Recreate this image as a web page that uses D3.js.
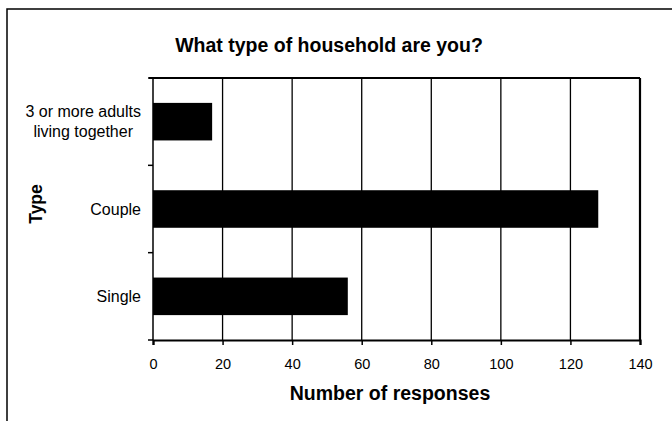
<!DOCTYPE html>
<html>
<head>
<meta charset="utf-8">
<script src="https://cdn.jsdelivr.net/npm/d3@7"></script>
<style>
  html, body { margin: 0; padding: 0; background: #fff; }
  svg { display: block; font-family: "Liberation Sans", Arial, sans-serif; }
</style>
</head>
<body>
<svg id="chart" width="672" height="421"></svg>
<script>
// ---- data ----
const categories = ["3 or more adults|living together", "Couple", "Single"];
const responses = [17, 128, 56];
const xTickValues = [0, 20, 40, 60, 80, 100, 120, 140];
const chartTitle = "What type of household are you?";
const xTitle = "Number of responses";
const yTitle = "Type";

// ---- layout ----
const W = 672, H = 421;
const plot = { left: 153, right: 640, top: 78, bottom: 340 };

const svg = d3.select("#chart");

// outer frame (only left and top edges visible)
svg.append("path")
  .attr("d", `M7,${H} L7,9 L${W},9`)
  .attr("fill", "none").attr("stroke", "#000").attr("stroke-width", 1.5);

const x = d3.scaleLinear().domain([0, 140]).range([plot.left, plot.right]);
const y = d3.scaleBand().domain(categories).range([plot.top, plot.bottom])
  .paddingInner(0.57).paddingOuter(0.285);

// gridlines
svg.append("g").selectAll("line").data(xTickValues.filter(v => v > 0 && v < 140)).join("line")
  .attr("x1", d => x(d)).attr("x2", d => x(d))
  .attr("y1", plot.top).attr("y2", plot.bottom)
  .attr("stroke", "#000").attr("stroke-width", 1.3);

// bars
svg.append("g").selectAll("rect").data(categories).join("rect")
  .attr("x", x(0))
  .attr("y", d => y(d))
  .attr("width", (d, i) => x(responses[i]) - x(0))
  .attr("height", y.bandwidth())
  .attr("fill", "#000");

// plot border: top and right
svg.append("line").attr("x1", plot.left - 4).attr("x2", plot.right).attr("y1", plot.top).attr("y2", plot.top)
  .attr("stroke", "#000").attr("stroke-width", 2);
svg.append("line").attr("x1", plot.right).attr("x2", plot.right).attr("y1", plot.top).attr("y2", plot.bottom)
  .attr("stroke", "#000").attr("stroke-width", 2.2);

// x axis
const xAxis = d3.axisBottom(x).tickValues(xTickValues).tickSize(5).tickPadding(14).tickFormat(d3.format("d"));
const gx = svg.append("g").attr("transform", `translate(0,${plot.bottom})`).call(xAxis);
gx.select(".domain").attr("stroke-width", 2.2);
gx.selectAll(".tick line").attr("stroke-width", 1.5);
gx.selectAll("text").attr("font-size", 14.5).attr("font-family", "Liberation Sans, Arial, sans-serif").attr("fill", "#000");

// y axis line and ticks at band boundaries
const yb = d3.range(categories.length + 1).map(i => plot.top + i * y.step());
svg.append("line").attr("x1", plot.left).attr("x2", plot.left).attr("y1", plot.top).attr("y2", plot.bottom)
  .attr("stroke", "#000").attr("stroke-width", 1.5);
svg.append("g").selectAll("line").data(yb).join("line")
  .attr("x1", plot.left - 5).attr("x2", plot.left)
  .attr("y1", d => d).attr("y2", d => d)
  .attr("stroke", "#000").attr("stroke-width", 1.5);

// category labels (multi-line labels centred on their widest line, right edge near axis)
const labelRight = plot.left - 12;
svg.append("g").selectAll("text").data(categories).join("text")
  .attr("font-size", 16)
  .attr("fill", "#000")
  .each(function (d) {
    const parts = d.split("|");
    const cy = y(d) + y.bandwidth() / 2;
    const t = d3.select(this);
    parts.forEach((p, i) => {
      t.append("tspan")
        .attr("y", cy + (i - (parts.length - 1) / 2) * 20)
        .attr("dy", "0.35em")
        .text(p);
    });
    const widths = [];
    t.selectAll("tspan").each(function () { widths.push(this.getComputedTextLength()); });
    const maxW = d3.max(widths);
    t.attr("text-anchor", "middle");
    t.selectAll("tspan").attr("x", labelRight - maxW / 2);
  });

// titles
svg.append("text").attr("x", 329).attr("y", 45).attr("dy", "0.35em")
  .attr("text-anchor", "middle").attr("font-size", 19.5).attr("font-weight", "bold")
  .text(chartTitle);
svg.append("text").attr("x", 390).attr("y", 393).attr("dy", "0.35em")
  .attr("text-anchor", "middle").attr("font-size", 19.5).attr("font-weight", "bold")
  .text(xTitle);
svg.append("text").attr("transform", "translate(36,204) rotate(-90)").attr("dy", "0.35em")
  .attr("text-anchor", "middle").attr("font-size", 17.5).attr("font-weight", "bold")
  .text(yTitle);
</script>
</body>
</html>
